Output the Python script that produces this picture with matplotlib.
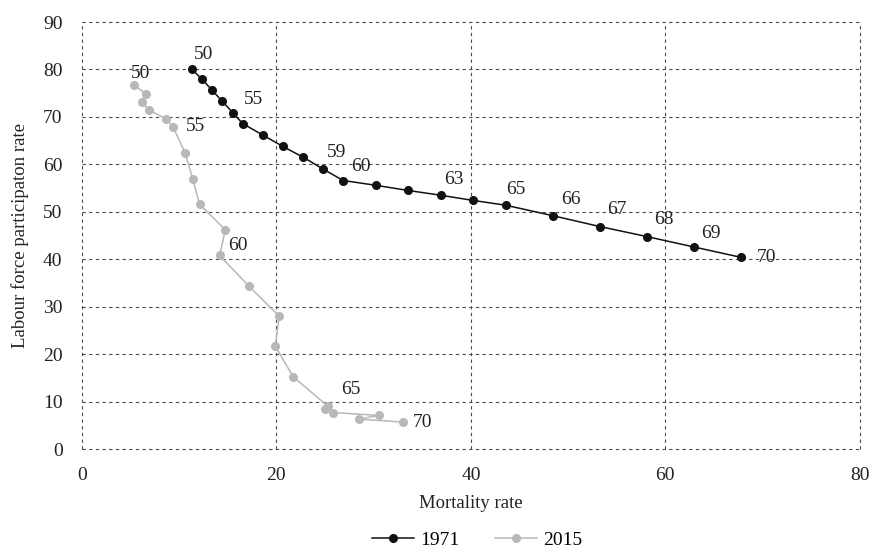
import matplotlib
matplotlib.use("Agg")
import matplotlib.pyplot as plt

plt.rcParams['font.family'] = ['Liberation Serif', 'DejaVu Serif']

ages = list(range(50, 71))

mort_1971 = [11.28, 12.37, 13.40, 14.43, 15.50, 16.53, 18.58, 20.64, 22.76, 24.81,
             26.87, 30.20, 33.56, 36.88, 40.24, 43.57, 48.40, 53.26, 58.07, 62.93, 67.80]
lfp_1971 = [80.1, 77.9, 75.6, 73.3, 70.9, 68.6, 66.2, 63.8, 61.5, 59.0,
            56.6, 55.6, 54.5, 53.5, 52.4, 51.4, 49.2, 46.9, 44.8, 42.6, 40.4]

mort_2015 = [5.38, 6.55, 6.14, 6.86, 8.64, 9.36, 10.62, 11.38, 12.10, 14.74,
             14.16, 17.14, 20.29, 19.88, 21.73, 25.26, 24.99, 25.81, 30.51, 28.51, 32.98]
lfp_2015 = [76.7, 74.9, 73.2, 71.5, 69.6, 67.9, 62.4, 57.0, 51.6, 46.2,
            40.8, 34.4, 28.0, 21.7, 15.2, 9.1, 8.4, 7.7, 7.1, 6.3, 5.7]

labels_1971 = [50, 55, 59, 60, 63, 65, 66, 67, 68, 69, 70]
labels_2015 = [50, 55, 60, 65, 70]

# label offsets in pixels (dx, dy)
off_1971 = {50: (12, 15), 55: (11, 24), 59: (13, 17), 60: (18, 14), 63: (13, 16),
            65: (10, 16), 66: (18, 16), 67: (17, 17), 68: (17, 17), 69: (17, 13), 70: (25, 0)}
off_2015 = {50: (6, 12), 55: (23, 0), 60: (18, 10), 65: (23, 16), 70: (20, 0)}

fig = plt.figure(figsize=(8.72, 5.51), dpi=100)
ax = fig.add_axes([0.094, 0.185, 0.892, 0.775])

c71 = '#111111'
c15 = '#b8b8b8'
tc = '#222222'

ax.plot(mort_1971, lfp_1971, color=c71, lw=1.1, marker='o', ms=5.5, label='1971', zorder=4)
ax.plot(mort_2015, lfp_2015, color=c15, lw=1.1, marker='o', ms=5.5, label='2015', zorder=3)

for a in labels_1971:
    i = ages.index(a)
    dx, dy = off_1971[a]
    ax.annotate(str(a), (mort_1971[i], lfp_1971[i]), xytext=(dx, dy), textcoords='offset pixels',
                ha='center', va='center', fontsize=14, color=tc, zorder=5)
for a in labels_2015:
    i = ages.index(a)
    dx, dy = off_2015[a]
    ax.annotate(str(a), (mort_2015[i], lfp_2015[i]), xytext=(dx, dy), textcoords='offset pixels',
                ha='center', va='center', fontsize=14, color=tc, zorder=5)

ax.set_xlim(0, 80)
ax.set_ylim(0, 90)
ax.set_xticks([0, 20, 40, 60, 80])
ax.set_yticks(range(0, 91, 10))
for s in ax.spines.values():
    s.set_visible(False)
ax.grid(True, color='#4a4a4a', linestyle=(0, (3, 3)), linewidth=0.8, zorder=0)
ax.set_axisbelow(True)
for gl in ax.get_xgridlines() + ax.get_ygridlines():
    gl.set_clip_on(False)
ax.tick_params(length=0, labelsize=14, colors=tc)
ax.tick_params(axis='y', pad=14)
ax.tick_params(axis='x', pad=13)
ax.set_xlabel('Mortality rate', fontsize=13.5, color=tc, labelpad=8)
ax.set_ylabel('Labour force participaton rate', fontsize=13.5, color=tc, labelpad=10)

fig.legend(loc='center', bbox_to_anchor=(477 / 872, 1 - 540 / 551), ncol=2, frameon=False,
           fontsize=14, handlelength=2.2, columnspacing=1.8, handletextpad=0.3)

fig.savefig('out.png', dpi=100)
